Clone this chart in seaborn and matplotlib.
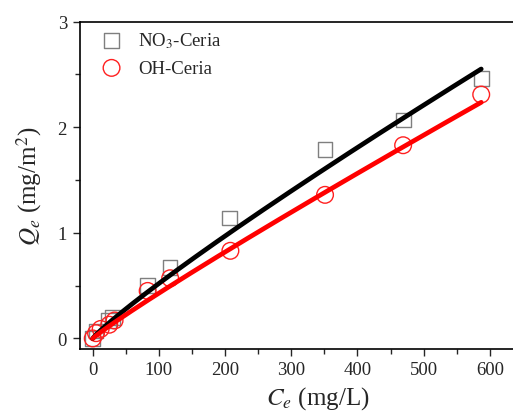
import numpy as np
import matplotlib
matplotlib.use("Agg")
import matplotlib.pyplot as plt
import seaborn as sns

# Equilibrium adsorption data: Ce (mg/L) and Qe (mg/m^2)
no3_ce = [0, 5, 24, 30, 83, 117, 207, 351, 470, 587]
no3_qe = [0.0, 0.07, 0.17, 0.20, 0.50, 0.67, 1.14, 1.79, 2.07, 2.46]
oh_ce = [0, 5, 12, 25, 33, 83, 117, 208, 351, 469, 587]
oh_qe = [0.0, 0.05, 0.09, 0.13, 0.17, 0.45, 0.57, 0.83, 1.36, 1.83, 2.31]

# Freundlich fit parameters (K, n): Qe = K * Ce**n
no3_fit = (0.00833, 0.898)
oh_fit = (0.00584, 0.933)
fit_range = (0, 587)

x_ticks = [0, 100, 200, 300, 400, 500, 600]
y_ticks = [0, 1, 2, 3]

sns.set_style("ticks")
plt.rcParams["font.family"] = ["Liberation Serif", "DejaVu Serif"]
plt.rcParams["mathtext.fontset"] = "stix"

fig = plt.figure(figsize=(5.13, 4.14), dpi=100)
ax = fig.add_axes([79.5 / 513, 64 / 414, (556 - 79.5) / 513, (350 - 22.7) / 414])

sns.scatterplot(x=no3_ce, y=no3_qe, marker="s", s=10.5 ** 2, ax=ax,
                label="NO$_3$-Ceria", zorder=2)
ax.collections[-1].set_facecolor("none")
ax.collections[-1].set_edgecolor("#7f7f7f")
ax.collections[-1].set_linewidth(1.0)

sns.scatterplot(x=oh_ce, y=oh_qe, marker="o", s=12 ** 2, ax=ax,
                label="OH-Ceria", zorder=3)
ax.collections[-1].set_facecolor("none")
ax.collections[-1].set_edgecolor("#ff2020")
ax.collections[-1].set_linewidth(1.0)

ce_line = np.linspace(fit_range[0], fit_range[1], 300)
sns.lineplot(x=ce_line, y=no3_fit[0] * ce_line ** no3_fit[1], color="black",
             linewidth=3.4, ax=ax, legend=False, zorder=4)
sns.lineplot(x=ce_line, y=oh_fit[0] * ce_line ** oh_fit[1], color="#ff0000",
             linewidth=3.4, ax=ax, legend=False, zorder=5)

ax.set_xlim(-20, 700)
ax.set_ylim(-0.1, 3)
ax.set_xticks(x_ticks)
ax.set_yticks(y_ticks)
ax.set_xticks(np.arange(50, 700, 100), minor=True)
ax.set_yticks([0.5, 1.5, 2.5], minor=True)
ax.tick_params(axis="both", which="major", direction="out", length=5, width=1.0,
               labelsize=13.5, pad=4, top=False, right=False)
ax.tick_params(axis="both", which="minor", direction="out", length=3.5, width=1.0,
               top=False, right=False)
for side in ["left", "bottom", "top"]:
    ax.spines[side].set_linewidth(1.2)
    ax.spines[side].set_color("black")
ax.spines["right"].set_visible(False)

ax.set_xlabel(r"$C_e$ (mg/L)", fontsize=18, labelpad=4)
ax.set_ylabel(r"$Q_e$ (mg/m$^2$)", fontsize=18, labelpad=10)

ax.legend(loc="upper left", bbox_to_anchor=(0.022, 0.994), frameon=False,
          fontsize=13.5, handletextpad=0.6, labelspacing=0.52, borderpad=0.05,
          handlelength=1.6, borderaxespad=0.3)

fig.savefig("out.png", dpi=100)
